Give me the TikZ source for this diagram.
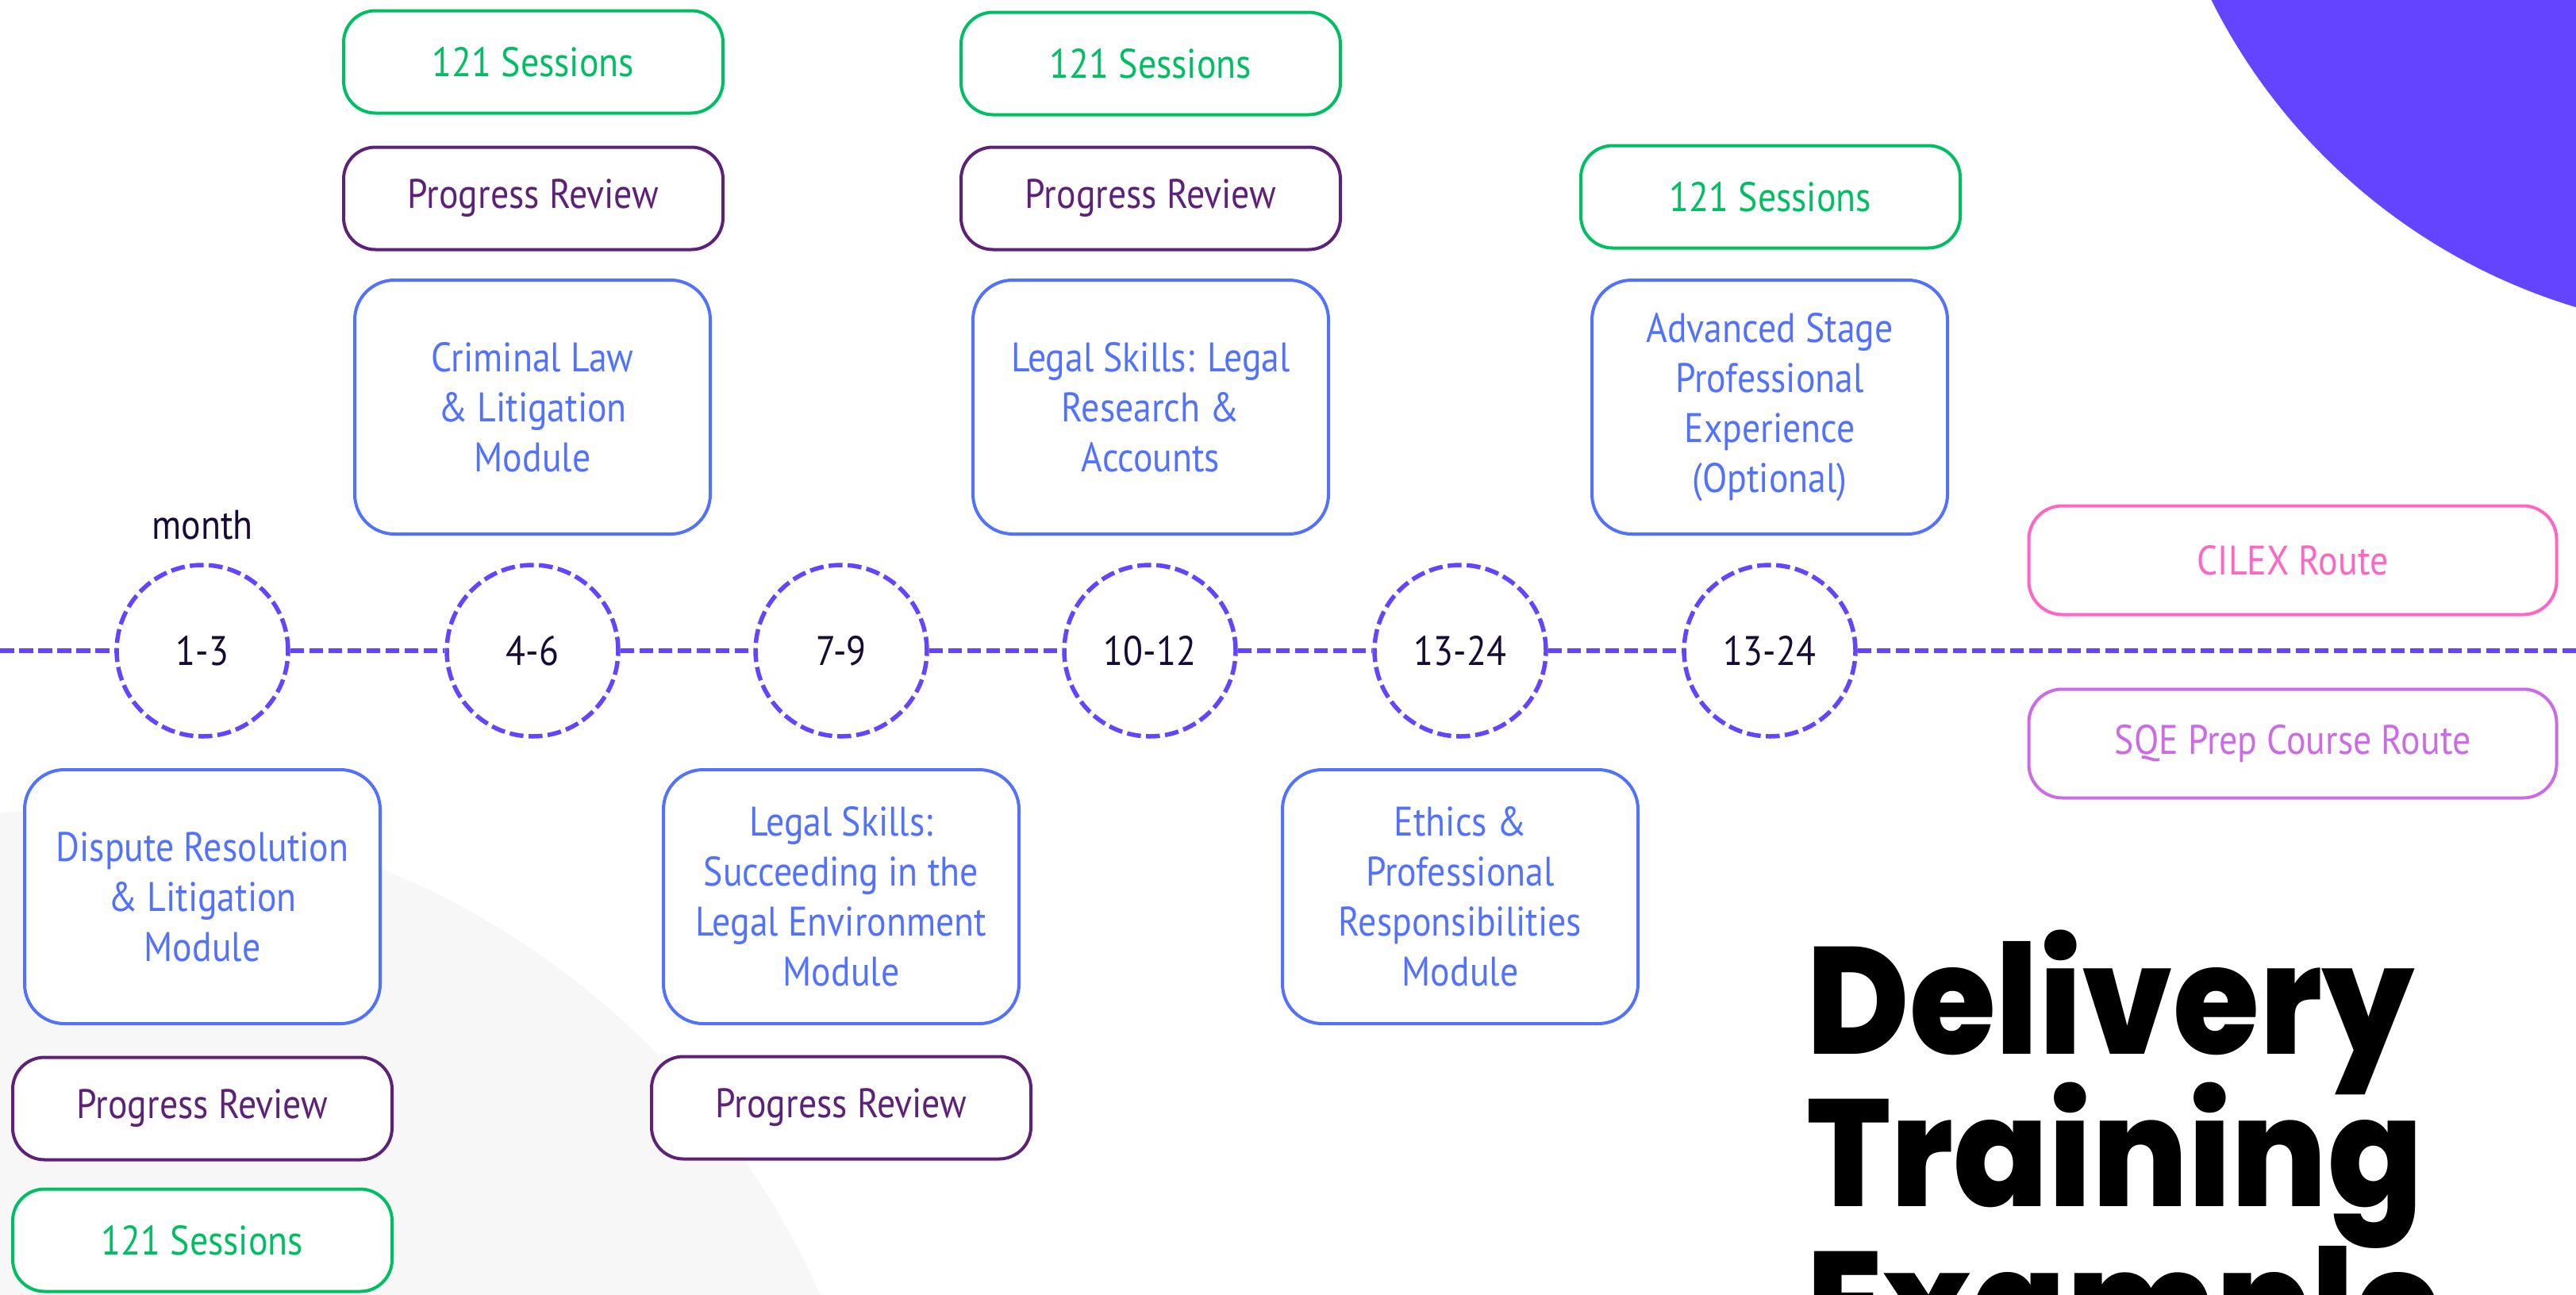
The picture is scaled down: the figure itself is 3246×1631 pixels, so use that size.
\documentclass[tikz,border=0pt]{standalone}
\usepackage{fontspec}
\setmainfont{PT Sans}[FakeStretch=0.88]
\newfontfamily\titlefont{Poppins ExtraBold}[FakeStretch=0.92]
\definecolor{cgreen}{HTML}{00BF63}
\definecolor{cprog}{HTML}{5E2178}
\definecolor{cblue}{HTML}{5271FF}
\definecolor{cline}{HTML}{6444FF}
\definecolor{cpink}{HTML}{FF66C4}
\definecolor{clilac}{HTML}{CB6CE6}
\definecolor{cdark}{HTML}{170B36}
\definecolor{cgray}{HTML}{F7F7F7}
\tikzset{
  boxbase/.style={draw, fill=white, line width=4pt, align=center, inner sep=0pt,
    font=\fontsize{52}{63}\selectfont},
  smallbox/.style={boxbase, minimum width=478pt, minimum height=129pt, rounded corners=40pt},
  modbox/.style={boxbase, minimum width=448pt, minimum height=320pt, rounded corners=50pt},
  sesbox/.style={smallbox, draw=cgreen, text=cgreen},
  progbox/.style={smallbox, draw=cprog, text=cprog},
  modulebox/.style={modbox, draw=cblue, text=cblue},
  routebox/.style={boxbase, minimum width=665pt, minimum height=137pt, rounded corners=42pt},
  tdash/.style={draw=cline, line width=5.5pt, dash pattern=on 17.5pt off 6.5pt},
  monthcirc/.style={circle, tdash, fill=white, minimum size=216pt, inner sep=0pt,
    text=cdark, font=\fontsize{52}{63}\selectfont},
  titletext/.style={anchor=base west, inner sep=0pt, text=black,
    font=\titlefont\fontsize{192}{192}\selectfont}
}
\begin{document}
\begin{tikzpicture}[x=1pt,y=-1pt]
\useasboundingbox (0,0) rectangle (3246,1631);
\clip (0,0) rectangle (3246,1631);
\fill[white] (0,0) rectangle (3246,1631);
% background shapes
\fill[cgray] (95,2045) circle (1025pt);
\fill[cline] (3464,-338) circle (757pt);
% timeline
\coordinate (L) at (0,820);
\coordinate (R) at (3246,820);
\node[monthcirc] (c1) at (255,820) {1-3};
\node[monthcirc] (c2) at (671,820) {4-6};
\node[monthcirc] (c3) at (1060,820) {7-9};
\node[monthcirc] (c4) at (1449,820) {10-12};
\node[monthcirc] (c5) at (1840,820) {13-24};
\node[monthcirc] (c6) at (2230,820) {13-24};
\draw[tdash] (L) -- (c1);
\draw[tdash] (c1) -- (c2);
\draw[tdash] (c2) -- (c3);
\draw[tdash] (c3) -- (c4);
\draw[tdash] (c4) -- (c5);
\draw[tdash] (c5) -- (c6);
\draw[tdash] (c6) -- (R);
\node[text=cdark, font=\fontsize{52}{63}\selectfont, anchor=base] (month) at (255,679) {month};
% column 2 (top)
\node[sesbox] (s2) at (672,78) {121 Sessions};
\node[progbox] (p2) at (672,250) {Progress Review};
\node[modulebox] (m2) at (671,513) {Criminal Law\\\& Litigation\\Module};
% column 4 (top)
\node[sesbox] (s4) at (1450,80) {121 Sessions};
\node[progbox] (p4) at (1450,250) {Progress Review};
\node[modulebox] (m4) at (1450,513) {Legal Skills: Legal\\Research \&\\Accounts};
% column 6 (top)
\node[sesbox] (s6) at (2231,248) {121 Sessions};
\node[modulebox] (m6) at (2230,513) {Advanced Stage\\Professional\\Experience\\(Optional)};
% column 1 (bottom)
\node[modulebox] (m1) at (255,1130) {Dispute Resolution\\\& Litigation\\Module};
\node[progbox] (p1) at (255,1397) {Progress Review};
\node[sesbox] (s1) at (255,1563) {121 Sessions};
% column 3 (bottom)
\node[modulebox] (m3) at (1060,1130) {Legal Skills:\\Succeeding in the\\Legal Environment\\Module};
\node[progbox] (p3) at (1060,1396) {Progress Review};
% column 5 (bottom)
\node[modulebox] (m5) at (1840,1130) {Ethics \&\\Professional\\Responsibilities\\Module};
% routes
\node[routebox, draw=cpink, text=cpink] (cilex) at (2889,706) {CILEX Route};
\node[routebox, draw=clilac, text=clilac] (sqe) at (2889,937) {SQE Prep Course Route};
% title
\node[titletext] (t1) at (2276,1328) {Delivery};
\node[titletext] (t2) at (2276,1520) {Training};
\node[titletext] (t3) at (2276,1712) {Example};
\end{tikzpicture}
\end{document}
